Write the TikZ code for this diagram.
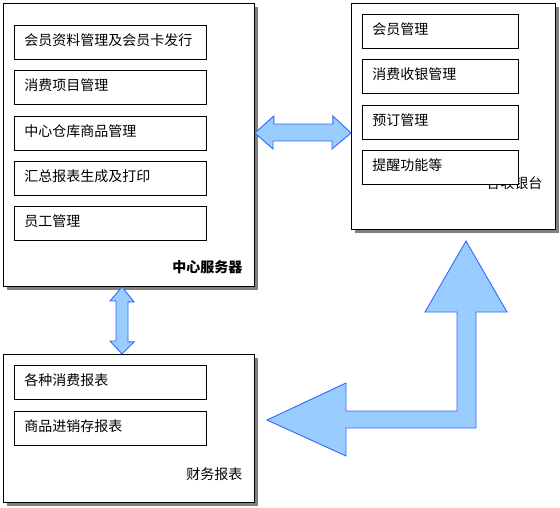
\documentclass[tikz,border=0pt]{standalone}
\usepackage{fontspec}
\setmainfont{Noto Sans CJK SC}
\usetikzlibrary{shadows}
\definecolor{arrowfill}{HTML}{99CCFF}
\definecolor{arrowline}{HTML}{3366FF}
\definecolor{shadowgray}{HTML}{808080}
\begin{document}
\begin{tikzpicture}[x=1pt,y=-1pt,
        panel/.style={draw, fill=white, line width=0.9pt, anchor=north west, inner sep=0pt,
            general shadow={fill=shadowgray, shadow xshift=4pt, shadow yshift=-4pt}},
        item/.style={draw, fill=white, line width=0.9pt, anchor=north west, text width=172pt,
            inner xsep=10pt, minimum height=34pt, text height=10pt, text depth=4pt,
            align=left, font=\fontsize{14}{16}\selectfont},
        caption/.style={anchor=east, font=\fontsize{14}{16}\selectfont},
        fat/.style={draw=arrowline, fill=arrowfill, line width=0.9pt, line join=miter}]
        \useasboundingbox (0,0) rectangle (560,507);
        % three panels
        \node[panel, minimum width=251pt, minimum height=283pt] (srv) at (3,3) {};
        \node[panel, minimum width=204pt, minimum height=226pt] (pos) at (351,3) {};
        \node[panel, minimum width=251pt, minimum height=148pt] (rpt) at (3,354) {};
        \node[caption, font=\fontsize{14}{16}\selectfont\bfseries] (srvlabel) at (246,267) {中心服务器};
        \node[caption] (poslabel) at (546,183) {各收银台};
        \node[caption] (rptlabel) at (246,474) {财务报表};
        % items
        \foreach \t [count=\i] in {会员资料管理及会员卡发行,消费项目管理,中心仓库商品管理,汇总报表生成及打印,员工管理}
            \node[item] (srv\i) at (14,{25+45.3*(\i-1)}) {\t};
        \foreach \t [count=\i] in {会员管理,消费收银管理,预订管理,提醒功能等}
            \node[item, text width=136pt] (pos\i) at (362,{14+45.3*(\i-1)}) {\t};
        \foreach \t [count=\i] in {各种消费报表,商品进销存报表}
            \node[item] (rpt\i) at (14,{365+46*(\i-1)}) {\t};
        % arrows
        \draw[fat] (srv.east |- 0,133) -- ++(19,-17) -- ++(0,8) -- ++(59,0) -- ++(0,-8)
            -- (pos.west |- 0,133) -- ++(-19,16) -- ++(0,-8) -- ++(-59,0) -- ++(0,8) -- cycle;
        \draw[fat] (122,0 |- srv.south) -- ++(12,15) -- ++(-6,0) -- ++(0,40) -- ++(6,0)
            -- (122,0 |- rpt.north) -- ++(-12,-13) -- ++(6,0) -- ++(0,-40) -- ++(-6,0) -- cycle;
        \coordinate (up) at (466,241);
        \coordinate (left) at (267,420);
        \draw[fat] (up) -- ++(41,71) -- ++(-31,0) -- ++(0,116) -- ++(-130,0) -- ++(0,28)
            -- (left) -- ++(79,-37) -- ++(0,28) -- ++(111,0) -- ++(0,-99) -- ++(-32,0) -- cycle;
\end{tikzpicture}
\end{document}
